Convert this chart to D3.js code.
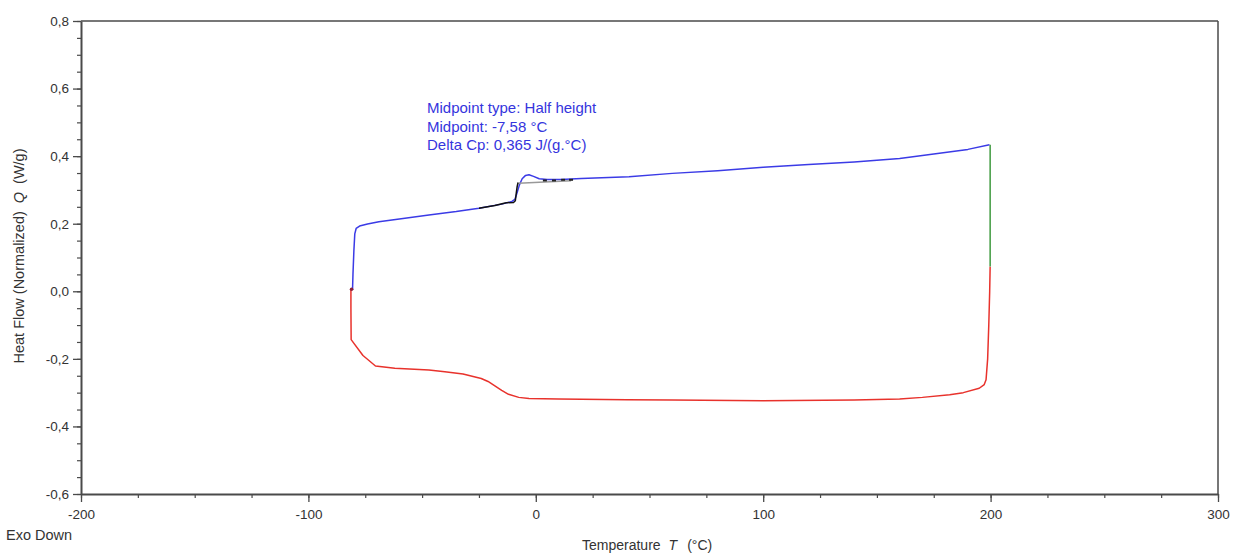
<!DOCTYPE html>
<html>
<head>
<meta charset="utf-8">
<script src="https://cdn.jsdelivr.net/npm/d3@7"></script>
<style>
  body { margin: 0; background: #fff; }
  text { font-family: "Liberation Sans", Arial, sans-serif; }
</style>
</head>
<body>
<div id="chart"></div>
<script>
// heating curve (blue) [T °C, Q W/g]
const blueData = [
  [-80.6, 0.004], [-80.4, 0.05], [-80.0, 0.12], [-79.6, 0.17], [-79.0, 0.186],
  [-77.5, 0.193], [-74, 0.199], [-69, 0.206], [-60, 0.214], [-47, 0.226],
  [-35, 0.236], [-25, 0.246], [-15, 0.258], [-10.5, 0.266], [-9.2, 0.272],
  [-8.3, 0.29], [-7.2, 0.315], [-6, 0.333], [-4.5, 0.343], [-3, 0.345],
  [-1, 0.340], [1.5, 0.333], [5, 0.331], [11, 0.331], [20, 0.334],
  [41, 0.339], [60, 0.349], [80, 0.357], [100, 0.367], [120, 0.375],
  [140, 0.383], [160, 0.393], [175, 0.406], [190, 0.420], [199.5, 0.434]
];
// isothermal segment (green)
const greenData = [[199.8, 0.434], [199.8, 0.073]];
// cooling curve (red)
const redData = [
  [199.8, 0.073], [199.6, 0.0], [199.2, -0.1], [198.7, -0.2], [198.0, -0.262],
  [197.2, -0.276], [195, -0.287], [188, -0.300], [182, -0.306], [170, -0.314],
  [160, -0.319], [140, -0.322], [100, -0.324], [60, -0.322], [40, -0.321],
  [10, -0.319], [-3, -0.317], [-7.5, -0.314], [-12, -0.305], [-15, -0.293],
  [-18, -0.280], [-21, -0.267], [-24, -0.258], [-32, -0.245], [-40, -0.238],
  [-47, -0.233], [-62, -0.228], [-70.5, -0.221], [-76, -0.19], [-81.2, -0.143],
  [-81.3, -0.05], [-81.3, 0.004]
];
// analysis segment (black)
const blackData = [
  [-25, 0.246], [-18, 0.254], [-13, 0.262], [-9.8, 0.263], [-9.0, 0.268],
  [-8.6, 0.29], [-8.2, 0.31], [-7.8, 0.322]
];
// baseline after the step (grey)
const baselineData = [[-7.6, 0.320], [15.5, 0.327]];
// dotted black marks on the baseline
const blackDots = [[4, 0.328], [8, 0.328], [12, 0.330], [15.5, 0.330]];

const xTicks = [-200, -100, 0, 100, 200, 300];
const yTicks = [-0.6, -0.4, -0.2, 0.0, 0.2, 0.4, 0.6, 0.8];
const noteLines = ["Midpoint type: Half height", "Midpoint: -7,58 °C", "Delta Cp: 0,365 J/(g.°C)"];

const W = 1234, H = 554;
const m = { left: 81, right: 1218, top: 21, bottom: 494 };

const svg = d3.select("#chart").append("svg")
  .attr("width", W).attr("height", H);

const x = d3.scaleLinear().domain([-200, 300]).range([m.left, m.right]);
const y = d3.scaleLinear().domain([-0.6, 0.8]).range([m.bottom, m.top]);

const loc = d3.formatLocale({ decimal: ",", thousands: ".", grouping: [3], currency: ["", ""], minus: "-" });
const fy = loc.format(".1f");
const fx = loc.format("d");

const axisColor = "#4a4a4a";
const textColor = "#333";

// minor ticks
svg.append("g")
  .attr("transform", `translate(0,${m.bottom})`)
  .call(d3.axisBottom(x).tickValues(d3.range(-200, 301, 25)).tickSize(4).tickFormat(""))
  .call(g => g.select(".domain").remove())
  .call(g => g.selectAll("line").attr("stroke", axisColor).attr("stroke-width", 1.2));
svg.append("g")
  .attr("transform", `translate(${m.left},0)`)
  .call(d3.axisLeft(y).tickValues(d3.range(-0.6, 0.801, 0.05)).tickSize(4).tickFormat(""))
  .call(g => g.select(".domain").remove())
  .call(g => g.selectAll("line").attr("stroke", axisColor).attr("stroke-width", 1.2));

// major axes
const xAxis = svg.append("g")
  .attr("transform", `translate(0,${m.bottom})`)
  .call(d3.axisBottom(x).tickValues(xTicks).tickSize(8).tickSizeOuter(0).tickPadding(7).tickFormat(fx));
const yAxis = svg.append("g")
  .attr("transform", `translate(${m.left},0)`)
  .call(d3.axisLeft(y).tickValues(yTicks).tickSize(8).tickSizeOuter(0).tickPadding(4).tickFormat(fy));

[xAxis, yAxis].forEach(a => {
  a.select(".domain").attr("stroke", axisColor).attr("stroke-width", 2);
  a.selectAll(".tick line").attr("stroke", axisColor).attr("stroke-width", 1.3);
  a.selectAll(".tick text").attr("font-size", 13.5).attr("fill", textColor)
    .attr("font-family", "'Liberation Sans', Arial, sans-serif");
});

// top and right frame
svg.append("line").attr("x1", m.left).attr("x2", m.right).attr("y1", m.top).attr("y2", m.top)
  .attr("stroke", axisColor).attr("stroke-width", 1.5);
svg.append("line").attr("x1", m.right).attr("x2", m.right).attr("y1", m.top).attr("y2", m.bottom)
  .attr("stroke", axisColor).attr("stroke-width", 1.5);

const line = d3.line().x(d => x(d[0])).y(d => y(d[1]));

function drawLine(data, color, width) {
  svg.append("path").datum(data)
    .attr("d", line)
    .attr("fill", "none")
    .attr("stroke", color)
    .attr("stroke-width", width)
    .attr("stroke-linejoin", "round");
}

drawLine(redData, "#e8322c", 1.5);
drawLine(greenData, "#3f9a3f", 1.5);
drawLine(blueData, "#3b3be6", 1.5);
drawLine(baselineData, "#999", 1.5);
drawLine(blackData, "#111", 1.5);

svg.append("g").selectAll("rect").data(blackDots).join("rect")
  .attr("x", d => x(d[0]) - 2).attr("y", d => y(d[1]) - 1)
  .attr("width", 4).attr("height", 2).attr("fill", "#222");

// red start dot
svg.append("circle").attr("cx", x(-81.0)).attr("cy", y(0.006)).attr("r", 1.8).attr("fill", "#8a1f3a");

// annotation
svg.append("g").selectAll("text").data(noteLines).join("text")
  .attr("x", 427)
  .attr("y", (d, i) => 113 + i * 18.5)
  .attr("font-size", 15)
  .attr("fill", "#3535dd")
  .text(d => d);

// axis titles
const yt = svg.append("text")
  .attr("transform", "translate(24,256) rotate(-90)")
  .attr("text-anchor", "middle")
  .attr("font-size", 14.5)
  .attr("fill", textColor);
yt.append("tspan").text("Heat Flow (Normalized)");
yt.append("tspan").attr("dx", 8).attr("font-style", "italic").text("Q");
yt.append("tspan").attr("dx", 8).text("(W/g)");

const xt = svg.append("text")
  .attr("x", 582).attr("y", 550)
  .attr("font-size", 14)
  .attr("fill", textColor);
xt.append("tspan").text("Temperature");
xt.append("tspan").attr("dx", 8).attr("font-style", "italic").text("T");
xt.append("tspan").attr("dx", 10).text("(°C)");

svg.append("text")
  .attr("x", 6).attr("y", 540)
  .attr("font-size", 14.5)
  .attr("fill", textColor)
  .text("Exo Down");
</script>
</body>
</html>
